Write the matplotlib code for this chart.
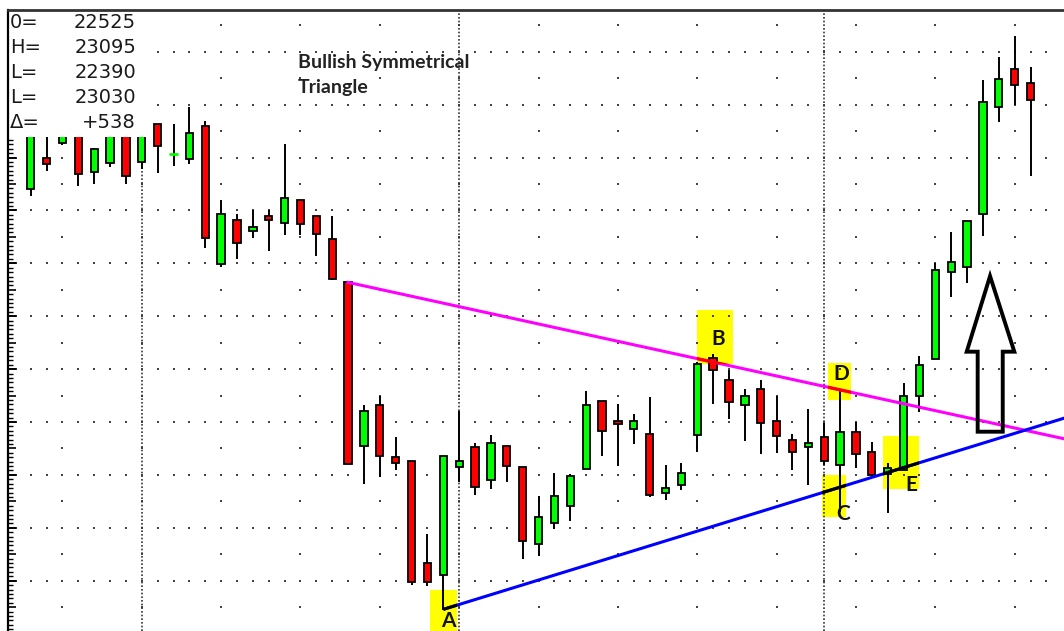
import matplotlib
matplotlib.use("Agg")
import matplotlib.pyplot as plt
from matplotlib.patches import Rectangle, Polygon
import numpy as np

# daily candles, index 0 = first bar on the left
opens = [22635, 22780, 22845, 22925, 22715, 22755, 22930, 22760, 22930, 22795,
         22775, 22925, 22295, 22495, 22445, 22515, 22485, 22585, 22515, 22410,
         22215, 21470, 21655, 21420, 21405, 20940, 20885, 21375, 21465, 21315,
         21470, 21375, 21025, 21120, 21200, 21365, 21675, 21585, 21550, 21525,
         21260, 21295, 21520, 21870, 21770, 21655, 21730, 21585, 21500, 21465,
         21510, 21385, 21535, 21445, 21345, 21360, 21700, 21865, 22260, 22285,
         22525, 23010, 23180, 23120]
highs = [22985, 22915, 22960, 22950, 22825, 22960, 22975, 22930, 22930, 22930,
         23010, 22945, 22585, 22525, 22540, 22540, 22840, 22585, 22515, 22515,
         22220, 21655, 21700, 21510, 21405, 21070, 21425, 21630, 21485, 21520,
         21470, 21375, 21245, 21350, 21345, 21720, 21675, 21660, 21615, 21695,
         21385, 21395, 21850, 21890, 21815, 21730, 21770, 21700, 21525, 21640,
         21575, 21725, 21580, 21490, 21395, 21755, 21880, 22300, 22440, 22490,
         23130, 23235, 23330, 23190]
lows = [22605, 22720, 22835, 22650, 22660, 22735, 22660, 22730, 22710, 22740,
        22750, 22370, 22285, 22320, 22415, 22355, 22430, 22430, 22335, 22225,
        21390, 21300, 21330, 21360, 20840, 20835, 20725, 21310, 21250, 21275,
        21310, 20960, 20970, 21095, 21130, 21365, 21425, 21380, 21480, 21240,
        21225, 21270, 21445, 21660, 21595, 21495, 21435, 21440, 21360, 21295,
        21385, 21170, 21370, 21340, 21165, 21360, 21625, 21865, 22145, 22210,
        22425, 22940, 23020, 22695]
closes = [22950, 22750, 22930, 22705, 22820, 22915, 22695, 22905, 22830, 22800,
          22890, 22415, 22525, 22390, 22465, 22495, 22595, 22480, 22435, 22230,
          21390, 21630, 21425, 21395, 20855, 20855, 21425, 21405, 21285, 21485,
          21380, 21040, 21150, 21245, 21335, 21655, 21540, 21570, 21585, 21250,
          21280, 21350, 21845, 21815, 21670, 21700, 21575, 21515, 21445, 21485,
          21405, 21535, 21435, 21340, 21370, 21700, 21840, 22270, 22305, 22490,
          23030, 23135, 23110, 23040]

# trend lines of the triangle (bar index, price)
upper_x = [19.9, 66]
upper_y = [22215, 21490]
lower_x = [26, 66]
lower_y = [20730, 21617]

# month separators and grid
separators = [7, 27, 50]
major_levels = np.arange(20860, 23261, 240)
minor_levels = np.arange(20740, 23381, 240)
sparse_cols = np.arange(2, 63, 5)

# marked points: letter, highlight box (x0, x1, y0, y1), letter position
marks = [
    ("A", (25.16, 26.84, 20590, 20818), (26.3, 20650)),
    ("B", (41.97, 44.23, 21843, 22088), (43.3, 21929)),
    ("C", (49.84, 51.35, 21148, 21340), (51.18, 21135)),
    ("D", (50.26, 51.69, 21680, 21849), (51.1, 21771)),
    ("E", (53.72, 55.99, 21275, 21518), (55.47, 21267)),
]

# hollow up arrow
arrow_x = [60.45, 61.98, 61.25, 61.25, 59.67, 59.67, 58.98]
arrow_y = [22242, 21899, 21899, 21536, 21536, 21899, 21899]

ohlc_labels = ["0=", "H=", "L=", "L=", "\u0394="]
ohlc_values = ["22525", "23095", "22390", "23030", "+538"]

fig = plt.figure(figsize=(10.64, 6.31), dpi=100)
ax = fig.add_axes([7.5 / 1064, 0, 1 - 7.5 / 1064, 621 / 631])
ax.set_xlim(-1.462, 65.11)
ax.set_ylim(20631.8, 23449.2)

# dotted grid
gx, gy = np.meshgrid(np.arange(65), major_levels)
ax.scatter(gx.ravel(), gy.ravel(), s=2.4, marker="s", color="#444444", linewidths=0, zorder=1)
gx, gy = np.meshgrid(sparse_cols, minor_levels)
ax.scatter(gx.ravel(), gy.ravel(), s=2.4, marker="s", color="#444444", linewidths=0, zorder=1)
for s in separators:
    ax.axvline(s, color="#333333", lw=1.2, linestyle=(0, (1, 1.2)), zorder=1)

# yellow highlights
patches = []
for letter, (x0, x1, y0, y1), (tx, ty) in marks:
    p = Rectangle((x0, y0), x1 - x0, y1 - y0, facecolor="#ffff00", edgecolor="none", zorder=0.5)
    ax.add_patch(p)
    patches.append(p)
    ax.text(tx, ty, letter, ha="center", va="baseline", fontsize=15, family="Lato",
            weight="bold", color="#111111", zorder=8)

# candles
for i in range(len(opens)):
    o, h, l, c = opens[i], highs[i], lows[i], closes[i]
    col = "#00ff00" if c >= o else "#ff0000"
    ax.vlines(i, l, h, color="black", lw=1.4, zorder=3)
    if abs(c - o) < 8:
        ax.hlines(o, i - 0.27, i + 0.27, color=col, lw=2, zorder=3.5)
    else:
        ax.add_patch(Rectangle((i - 0.23, min(o, c)), 0.46, abs(c - o), facecolor=col,
                               edgecolor="black", lw=1.3, zorder=3.5))

# triangle lines, tinted where they cross the highlights
ax.plot(upper_x, upper_y, color="#ff00ff", lw=2.2, zorder=4, solid_capstyle="butt")
ax.plot(lower_x, lower_y, color="#0000ff", lw=2.2, zorder=4, solid_capstyle="butt")
for p in patches:
    seg, = ax.plot(upper_x, upper_y, color="#ff0000", lw=2.2, zorder=4.1, solid_capstyle="butt")
    seg.set_clip_path(p)
    seg, = ax.plot(lower_x, lower_y, color="black", lw=2.2, zorder=4.1, solid_capstyle="butt")
    seg.set_clip_path(p)

ax.add_patch(Polygon(list(zip(arrow_x, arrow_y)), closed=True, fill=False, edgecolor="black",
                     lw=2.8, joinstyle="miter", zorder=5))

ax.text(16.84, 23185, "Bullish Symmetrical", fontsize=14, family="Lato", weight="bold",
        color="#222222", zorder=8)
ax.text(16.84, 23071, "Triangle", fontsize=14, family="Lato", weight="bold",
        color="#222222", zorder=8)

# axes frame: only left and top
for side in ["right", "bottom"]:
    ax.spines[side].set_visible(False)
ax.spines["left"].set_linewidth(1.6)
ax.spines["left"].set_color("black")
ax.spines["top"].set_linewidth(2)
ax.spines["top"].set_color("#333333")
ax.spines["left"].set_zorder(9)
ax.spines["top"].set_zorder(9)
ax.set_xticks([])
ax.set_yticks(np.arange(20740, 23449, 120))
ax.set_yticks(np.arange(20640, 23449, 20), minor=True)
ax.tick_params(axis="y", which="major", direction="in", length=5.4, width=1.2, labelleft=False)
ax.tick_params(axis="y", which="minor", direction="in", length=3.6, width=1.0)
trans = matplotlib.transforms.blended_transform_factory(ax.transAxes, ax.transData)
ax.hlines(major_levels, 0, 9.8 / 1056.5, transform=trans, color="black", lw=1.2, zorder=2.6)

# price box in the corner
ax.add_patch(Rectangle((0, 0.796), 0.1358, 0.21, transform=ax.transAxes, facecolor="white",
                       edgecolor="none", zorder=7))
for k in range(len(ohlc_labels)):
    yb = 1 - (28.3 + 25 * k) / 631
    fig.text(10 / 1064, yb, ohlc_labels[k], fontsize=14, color="#1a1a1a", va="baseline")
    fig.text(136 / 1064, yb, ohlc_values[k], fontsize=14, color="#1a1a1a", va="baseline", ha="right")

fig.savefig("out.png", dpi=100)
